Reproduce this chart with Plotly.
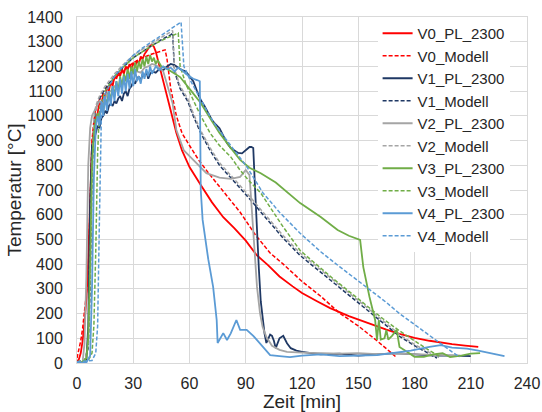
import plotly.graph_objects as go

# Zeit [min] / Temperatur [°C]

t_v0_pl = [0, 1, 2, 3, 4, 5, 6, 7, 8, 9, 10, 11, 12, 13, 14, 15, 16, 17, 18, 19, 20, 21, 22, 23, 24, 25,
           26, 27, 28, 29, 30, 31, 32, 33, 34, 35, 36, 37, 38, 39, 40, 41, 42, 43, 44, 46, 48, 50, 53, 56,
           60, 66, 72, 78, 84, 90, 96, 102, 108, 115, 120, 128, 135, 145, 155, 165, 172, 180, 188, 194,
           200, 207, 214]
T_v0_pl = [5, 15, 40, 90, 160, 260, 420, 700, 880, 950, 990, 1010, 1060, 1040, 1090, 1070, 1120, 1100,
           1140, 1120, 1160, 1150, 1180, 1160, 1190, 1170, 1200, 1185, 1210, 1190, 1215, 1200, 1225, 1210,
           1240, 1230, 1250, 1260, 1275, 1285, 1287, 1280, 1260, 1230, 1200, 1140, 1077, 1010, 931, 860,
           793, 720, 650, 590, 545, 495, 435, 395, 350, 310, 283, 250, 222, 190, 162, 135, 118, 102, 90,
           82, 76, 70, 65]

t_v0_mod = [0, 1, 2, 3, 4, 5, 6, 7, 8, 9, 10, 12, 15, 20, 25, 30, 35, 40, 44, 47, 48, 50, 53, 56, 60,
            65, 70, 76, 82, 87, 95, 103, 110, 120, 130, 140, 150, 155, 160, 167, 170]
T_v0_mod = [20, 50, 90, 140, 200, 280, 380, 600, 900, 980, 1030, 1065, 1100, 1150, 1185, 1215, 1235,
            1250, 1260, 1267, 1230, 1110, 1000, 930, 880, 820, 770, 713, 660, 610, 520, 445, 400, 330,
            270, 202, 150, 121, 90, 45, 25]

t_v1_pl = [0, 3, 5, 6, 7, 8, 9, 10, 11, 12, 13, 14, 15, 16, 17, 18, 19, 20, 21, 22, 23, 24, 25, 26, 27,
           28, 29, 30, 31, 32, 33, 34, 35, 36, 37, 38, 39, 40, 42, 44, 46, 48, 50, 52, 54, 56, 58, 60, 62,
           64, 66, 68, 70, 72, 74, 76, 78, 80, 82, 84, 86, 88, 90, 92, 93, 94, 95, 96, 97, 98, 99, 100,
           101, 102, 103, 104, 105, 106, 108, 110, 112, 114, 117, 120, 125, 130, 140, 150, 160, 170, 180,
           190, 200, 210]
T_v1_pl = [0, 2, 10, 150, 650, 880, 900, 930, 960, 950, 990, 1000, 1020, 1010, 1040, 1050, 1040, 1060,
           1050, 1070, 1080, 1060, 1090, 1100, 1080, 1110, 1120, 1140, 1130, 1150, 1160, 1140, 1170, 1160,
           1180, 1150, 1170, 1180, 1175, 1190, 1185, 1200, 1210, 1205, 1195, 1185, 1180, 1160, 1140, 1100,
           1064, 1040, 1010, 983, 965, 950, 920, 890, 870, 860, 850, 848, 860, 874, 874, 870, 700, 520,
           380, 250, 180, 120, 81, 100, 115, 110, 90, 60, 100, 110, 80, 60, 50, 45, 40, 35, 38, 30, 35,
           40, 35, 30, 30, 28]

t_v1_mod = [0, 4, 6, 7, 8, 9, 10, 12, 15, 20, 25, 30, 35, 40, 45, 50, 51, 52, 55, 59, 62, 66, 71, 76,
            82, 87, 92, 97, 103, 110, 119, 128, 136, 145, 155, 163, 172, 180, 186, 192]
T_v1_mod = [5, 10, 60, 300, 750, 960, 1030, 1070, 1110, 1160, 1200, 1235, 1260, 1285, 1308, 1328, 1335,
            1180, 1110, 1060, 1000, 930, 860, 800, 750, 710, 665, 620, 566, 505, 435, 380, 330, 275, 214,
            165, 108, 70, 45, 20]

t_v2_pl = [0, 3, 4, 5, 6, 7, 8, 10, 12, 14, 16, 18, 20, 22, 24, 26, 28, 30, 32, 34, 36, 38, 40, 42, 44,
           46, 48, 51, 53, 57, 62, 66, 69, 76, 82, 87, 90, 92, 93.5, 96, 97.6, 99, 101, 104, 108, 112,
           120, 130, 140, 150, 160, 170, 180, 190, 200, 205]
T_v2_pl = [0, 5, 80, 350, 800, 950, 1000, 1030, 1060, 1050, 1090, 1100, 1120, 1110, 1140, 1150, 1160,
           1170, 1180, 1175, 1195, 1200, 1210, 1205, 1195, 1180, 1130, 1050, 943, 860, 822, 790, 768,
           750, 745, 753, 781, 760, 579, 308, 202, 146, 105, 70, 53, 45, 42, 40, 38, 40, 36, 38, 35, 33,
           32, 30]

t_v2_mod = [0, 4, 6, 7, 8, 9, 10, 12, 15, 20, 25, 30, 35, 40, 45, 50, 51, 52, 55, 59, 62, 66, 71, 76,
            82, 87, 92, 97, 103, 110, 119, 128, 136, 145, 155, 163, 172, 180, 187, 193]
T_v2_mod = [5, 10, 70, 350, 800, 980, 1040, 1080, 1120, 1170, 1210, 1245, 1270, 1295, 1318, 1340, 1345,
            1190, 1120, 1070, 1010, 940, 870, 810, 760, 720, 675, 630, 575, 515, 445, 390, 340, 285, 222,
            172, 115, 75, 48, 22]

t_v3_pl = [0, 3, 5, 6, 7, 8, 9, 10, 11, 12, 13, 14, 15, 16, 17, 18, 19, 20, 21, 22, 23, 24, 25, 26, 27,
           28, 29, 30, 31, 32, 33, 34, 35, 36, 37, 38, 39, 40, 41, 42, 43, 45, 47, 50, 55, 61, 66, 71, 76,
           82, 87, 92, 98, 106, 112, 119, 130, 139, 145, 151, 152.7, 156, 159, 160, 161, 162, 164, 165,
           166, 168, 170.5, 172, 177, 180, 185, 190, 195, 199, 205, 210, 215]
T_v3_pl = [0, 5, 20, 100, 400, 800, 930, 980, 1010, 990, 1040, 1020, 1070, 1050, 1100, 1060, 1120, 1080,
           1140, 1100, 1160, 1120, 1170, 1140, 1190, 1150, 1200, 1170, 1215, 1180, 1220, 1190, 1230, 1200,
           1240, 1210, 1246, 1220, 1235, 1210, 1225, 1200, 1195, 1180, 1157, 1100, 1052, 990, 931, 870,
           822, 790, 768, 730, 690, 647, 591, 538, 515, 498, 388, 267, 174, 93, 174, 95, 100, 134, 95,
           110, 134, 65, 40, 25, 25, 35, 40, 24, 30, 38, 40]

t_v3_mod = [0, 6, 8, 9, 10, 11, 12, 15, 20, 25, 30, 35, 40, 45, 50, 54, 55, 58, 62, 66, 71, 76, 82, 87,
            92, 98, 103, 110, 119, 128, 136, 145, 155, 163, 172, 180, 187, 194]
T_v3_mod = [5, 10, 40, 150, 450, 850, 1030, 1100, 1160, 1200, 1235, 1260, 1285, 1305, 1322, 1335, 1200,
            1130, 1064, 1000, 930, 880, 834, 780, 735, 688, 630, 550, 455, 395, 345, 290, 230, 180, 130,
            90, 55, 24]

t_v4_pl = [0, 5, 7, 8, 9, 10, 11, 12, 13, 14, 15, 16, 17, 18, 19, 20, 21, 22, 23, 24, 25, 26, 27, 28,
           29, 30, 31, 32, 33, 34, 35, 36, 37, 38, 39, 40, 42, 44, 46, 48, 50, 52, 54, 56, 58, 60, 62, 64,
           65.5, 66, 67, 70, 72.6, 74.5, 75, 78, 80, 82, 85, 87, 90.5, 94, 99, 103, 108, 113.6, 120, 130,
           140, 150, 160, 168, 178, 188, 194, 200, 208, 214, 221, 228]
T_v4_pl = [0, 2, 30, 300, 750, 950, 1000, 960, 1060, 1000, 1080, 1020, 1100, 1040, 1120, 1060, 1140,
           1080, 1150, 1090, 1160, 1100, 1170, 1110, 1180, 1120, 1190, 1140, 1160, 1130, 1180, 1150, 1190,
           1160, 1200, 1170, 1200, 1185, 1200, 1190, 1195, 1180, 1195, 1185, 1170, 1160, 1150, 1145, 1140,
           700, 579, 420, 308, 174, 81, 121, 93, 120, 174, 134, 134, 110, 65, 32, 28, 24, 30, 35, 28, 30,
           32, 40, 50, 65, 72, 62, 58, 50, 40, 28]

t_v4_mod = [0, 8, 10, 11, 12, 13, 14, 15, 20, 25, 30, 35, 40, 45, 50, 55.5, 57, 60, 65, 70, 74.5, 82,
            90.5, 99, 108, 119, 130, 140, 155, 165, 172, 180, 188, 194, 200, 204]
T_v4_mod = [5, 10, 40, 150, 600, 1000, 1060, 1090, 1160, 1205, 1245, 1275, 1300, 1325, 1350, 1380, 1200,
            1150, 1080, 1010, 955, 880, 795, 690, 610, 525, 450, 390, 305, 245, 200, 155, 110, 78, 45, 25]

names = ["V0_PL_2300", "V0_Modell", "V1_PL_2300", "V1_Modell", "V2_PL_2300", "V2_Modell",
         "V3_PL_2300", "V3_Modell", "V4_PL_2300", "V4_Modell"]
series = [(t_v0_pl, T_v0_pl), (t_v0_mod, T_v0_mod), (t_v1_pl, T_v1_pl), (t_v1_mod, T_v1_mod),
          (t_v2_pl, T_v2_pl), (t_v2_mod, T_v2_mod), (t_v3_pl, T_v3_pl), (t_v3_mod, T_v3_mod),
          (t_v4_pl, T_v4_pl), (t_v4_mod, T_v4_mod)]
colors = ["#FF0000", "#FF0000", "#1F3864", "#1F3864", "#A5A5A5", "#A5A5A5",
          "#70AD47", "#70AD47", "#5B9BD5", "#5B9BD5"]

fig = go.Figure()
for name, (t, T), col in zip(names, series, colors):
    assert len(t) == len(T), name
    dashed = name.endswith("Modell")
    fig.add_trace(go.Scatter(x=t, y=T, mode='lines', name=name,
                             line=dict(color=col, width=1.5 if dashed else 1.8,
                                       dash='4px,2px' if dashed else 'solid')))

grid = '#D9D9D9'
fig.update_layout(
    width=542, height=412,
    margin=dict(l=77, r=15, t=17, b=49),
    paper_bgcolor='white', plot_bgcolor='white',
    font=dict(family='Liberation Sans, Arial', size=16, color='#262626'),
    showlegend=True,
    legend=dict(x=0.668, y=1.0, xanchor='left', yanchor='top', bgcolor='white',
                font=dict(size=15), itemwidth=30, tracegroupgap=0),
)
fig.update_xaxes(range=[0, 240], dtick=30, tick0=0, showgrid=True, gridcolor=grid,
                 showline=True, linecolor=grid, mirror=True, zeroline=False, automargin=False,
                 ticks='outside', ticklen=6, tickcolor='rgba(0,0,0,0)',
                 title=dict(text='Zeit [min]', standoff=4))
fig.update_yaxes(range=[0, 1400], dtick=100, tick0=0, showgrid=True, gridcolor=grid,
                 showline=True, linecolor=grid, mirror=True, zeroline=False, automargin=False,
                 ticks='outside', ticklen=10, tickcolor='rgba(0,0,0,0)',
                 title=dict(text='Temperatur [°C]', standoff=0))

# drop the default 8px page margin so the 542x412 figure fills the window exactly
fig.write_html("out.html", config={'displayModeBar': False},
               post_script="document.body.style.margin='0';document.body.style.overflow='hidden';")
